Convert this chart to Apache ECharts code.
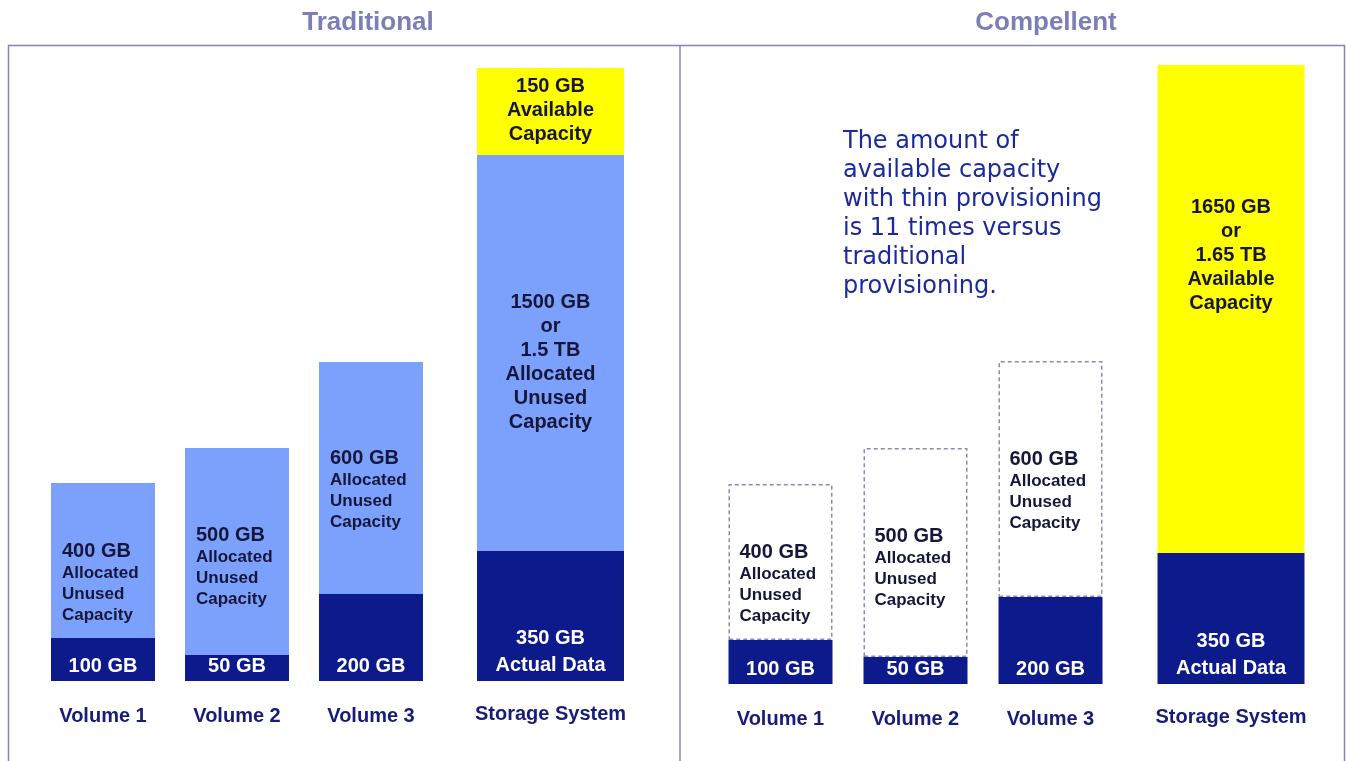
<!DOCTYPE html>
<html>
<head>
<meta charset="utf-8">
<script src="https://cdn.jsdelivr.net/npm/echarts@6/dist/echarts.min.js"></script>
<style>
  html, body { margin: 0; padding: 0; background: #fff; }
  #chart { width: 1346px; height: 761px; }
</style>
</head>
<body>
<div id="chart"></div>
<script>
// categories
const volumes = ['Volume 1', 'Volume 2', 'Volume 3'];
const systemName = ['Storage System'];

// values printed on the bars (GB)
const usedGB = [100, 50, 200];
const unusedGB = [400, 500, 600];
const systemUsedGB = [350];
const systemUnusedGB = [1500];
const tradFreeGB = [150];
const thinFreeGB = [1650];

// bar heights as drawn (the sketch is not to scale)
const tradUsedH = [43, 26, 87];
const tradUnusedH = [155, 207, 232];
const tradSysUsedH = [130];
const tradSysUnusedH = [396];
const tradSysFreeH = [87];
const thinUsedH = [44, 27, 87];
const thinUnusedH = [156, 209, 236];
const thinSysUsedH = [131];
const thinSysFreeH = [488];

const darkBlue = '#0c1a8c';
const lightBlue = '#7ba1fc';
const yellow = '#ffff00';
const ink = '#15163a';
const navy = '#161c78';
const font = '"Liberation Sans", Arial, sans-serif';

const chart = echarts.init(document.getElementById('chart'));

const grids = [
  { left: 36, width: 402, top: 41, bottom: 80 },
  { left: 450, width: 201, top: 41, bottom: 80 },
  { left: 713, width: 405, top: 44, bottom: 77 },
  { left: 1131, width: 200, top: 44, bottom: 77 }
];

const xAxis = grids.map((g, i) => ({
  type: 'category',
  gridIndex: i,
  data: i % 2 === 0 ? volumes : systemName,
  axisLine: { show: false },
  axisTick: { show: false },
  axisLabel: {
    color: navy, fontFamily: font, fontWeight: 'bold', fontSize: 20,
    margin: i % 2 === 0 ? 25 : 23
  }
}));

const yAxis = grids.map((g, i) => ({
  type: 'value', gridIndex: i, min: 0, max: 640, show: false
}));

const usedLabel = gbs => ({
  show: true, position: 'insideBottom', distance: 5,
  color: '#fff', fontFamily: font, fontWeight: 'bold', fontSize: 20,
  formatter: p => gbs[p.dataIndex] + ' GB'
});

const unusedLabel = {
  show: true, position: [11, '37%'], align: 'left', verticalAlign: 'top',
  formatter: p => `{a|${unusedGB[p.dataIndex]} GB}\n{b|Allocated}\n{b|Unused}\n{b|Capacity}`,
  rich: {
    a: { color: ink, fontFamily: font, fontWeight: 'bold', fontSize: 20, lineHeight: 22 },
    b: { color: ink, fontFamily: font, fontWeight: 'bold', fontSize: 17, lineHeight: 21 }
  }
};

const sysText = { fontFamily: font, fontWeight: 'bold', fontSize: 20, align: 'center' };

function panel(ix, usedH, unusedH, unusedStyle, sysUsedH, sysParts) {
  const list = [
    {
      type: 'bar', xAxisIndex: ix, yAxisIndex: ix, stack: 'v' + ix, barWidth: 104,
      data: usedH, itemStyle: { color: darkBlue }, label: usedLabel(usedGB)
    },
    {
      type: 'bar', xAxisIndex: ix, yAxisIndex: ix, stack: 'v' + ix, barWidth: 104,
      data: unusedH, itemStyle: unusedStyle, label: unusedLabel
    },
    {
      type: 'bar', xAxisIndex: ix + 1, yAxisIndex: ix + 1, stack: 's' + ix, barWidth: 147,
      data: sysUsedH, itemStyle: { color: darkBlue },
      label: Object.assign({
        show: true, position: 'insideBottom', distance: 2, color: '#fff', lineHeight: 27,
        formatter: () => systemUsedGB[0] + ' GB\nActual Data'
      }, sysText)
    }
  ];
  sysParts.forEach(s => list.push({
    type: 'bar', xAxisIndex: ix + 1, yAxisIndex: ix + 1, stack: 's' + ix, barWidth: 147,
    data: s.data, itemStyle: { color: s.color },
    label: Object.assign({ show: true, color: ink, lineHeight: 24, formatter: s.text }, sysText, s.pos)
  }));
  return list;
}

const series = [
  ...panel(0, tradUsedH, tradUnusedH, { color: lightBlue }, tradSysUsedH, [
    {
      data: tradSysUnusedH, color: lightBlue,
      pos: { position: 'inside', offset: [0, 9] },
      text: () => `${systemUnusedGB[0]} GB\nor\n${systemUnusedGB[0] / 1000} TB\nAllocated\nUnused\nCapacity`
    },
    {
      data: tradSysFreeH, color: yellow,
      pos: { position: 'insideTop', distance: 6 },
      text: () => `${tradFreeGB[0]} GB\nAvailable\nCapacity`
    }
  ]),
  ...panel(2, thinUsedH, thinUnusedH,
    { color: '#fff', borderColor: '#8a8ab4', borderWidth: 1.5, borderType: [4, 3] },
    thinSysUsedH, [
    {
      data: thinSysFreeH, color: yellow,
      pos: { position: ['50%', '39%'], verticalAlign: 'middle' },
      text: () => `${thinFreeGB[0]} GB\nor\n${thinFreeGB[0] / 1000} TB\nAvailable\nCapacity`
    }
  ])
];

const titleStyle = { color: '#7c7eb6', fontFamily: font, fontWeight: 'bold', fontSize: 26 };

chart.setOption({
  animation: false,
  backgroundColor: '#fff',
  title: [
    { text: 'Traditional', left: 363, top: 5, textAlign: 'center', textStyle: titleStyle },
    { text: 'Compellent', left: 1041, top: 5, textAlign: 'center', textStyle: titleStyle }
  ],
  grid: grids,
  xAxis: xAxis,
  yAxis: yAxis,
  series: series,
  graphic: [
    {
      type: 'rect', silent: true, z: -1,
      shape: { x: 8.5, y: 45.5, width: 1336, height: 760 },
      style: { fill: null, stroke: '#8585b8', lineWidth: 1.5 }
    },
    {
      type: 'line', silent: true, z: -1,
      shape: { x1: 680, y1: 45.5, x2: 680, y2: 761 },
      style: { stroke: '#8585b8', lineWidth: 1.5 }
    },
    {
      type: 'text', silent: true, left: 843, top: 127,
      style: {
        text: 'The amount of\navailable capacity\nwith thin provisioning\nis 11 times versus\ntraditional\nprovisioning.',
        fill: '#1a2a9c', fontFamily: '"DejaVu Sans", sans-serif', fontSize: 24, lineHeight: 29
      }
    }
  ]
});
</script>
</body>
</html>
